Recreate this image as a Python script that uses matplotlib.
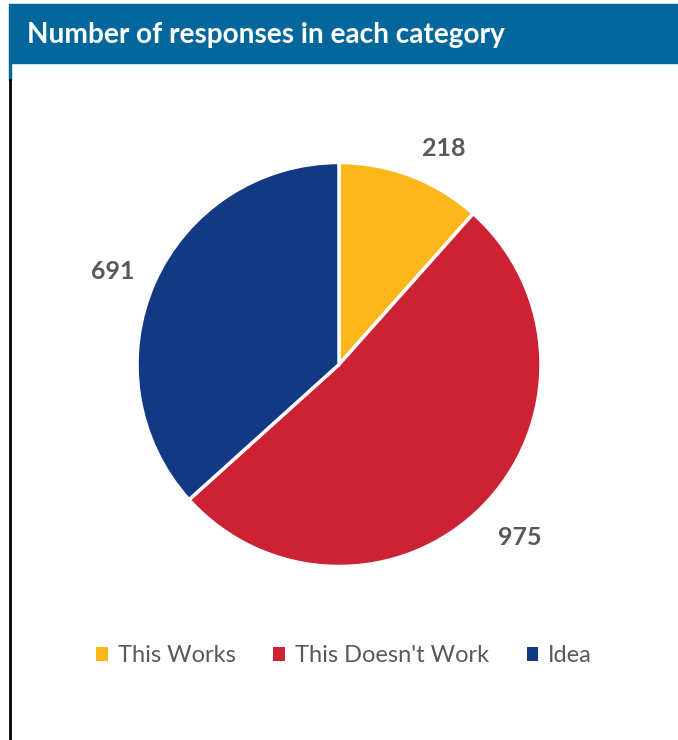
import matplotlib
matplotlib.use('Agg')
import matplotlib.pyplot as plt
from matplotlib.patches import Rectangle
from matplotlib.lines import Line2D
import numpy as np

categorias = ['This Works', "This Doesn't Work", 'Idea']
valores = [218, 975, 691]
colores = ['#FDB71C', '#CD2234', '#143984']

plt.rcParams['font.family'] = ['Lato', 'DejaVu Sans']

W, H = 678, 740
fig = plt.figure(figsize=(W / 100, H / 100), dpi=100)

# Cabecera azul
fig.patches.append(Rectangle((9 / W, 1 - 63 / H), 1 - 9 / W, 59 / H,
                             transform=fig.transFigure, color='#03679C', zorder=0))
fig.text(27 / W, 1 - 35 / H, 'Number of responses in each category', color='white',
         fontsize=20.2, fontweight='bold', va='center', ha='left')
# Borde izquierdo
fig.lines.append(Line2D([10 / W, 10 / W], [0, 1 - 80 / H], transform=fig.transFigure,
                        color='black', lw=2))
fig.patches.append(Rectangle((9 / W, 1 - 80 / H), 2 / W, 17 / H,
                             transform=fig.transFigure, color='#03679C'))

ax = fig.add_axes([137 / W, 1 - 567 / H, 404 / W, 405 / H])
wedges, _ = ax.pie(valores, colors=colores, startangle=90, counterclock=False,
                   wedgeprops=dict(edgecolor='white', linewidth=2.5))
ax.set_xlim(-1, 1)
ax.set_ylim(-1, 1)

# Etiquetas fuera de cada sector (ajuste fino de angulo y distancia)
giros = [-5, 1, 1.5]
dists = [1.19, 1.24, 1.21]
for w, v, g, d in zip(wedges, valores, giros, dists):
    ang = np.deg2rad((w.theta1 + w.theta2) / 2 + g)
    ax.text(d * np.cos(ang), d * np.sin(ang), str(v), ha='center', va='center',
            fontsize=18, fontweight='bold', color='#595959')

leg = fig.legend(wedges, categorias, loc='center', bbox_to_anchor=(344 / W, 1 - 656 / H),
                 ncol=3, frameon=False, fontsize=17, handlelength=0.5, handleheight=0.5,
                 handletextpad=0.4, columnspacing=1.6, labelcolor='#595959')
for h in leg.legend_handles:
    h.set_edgecolor('none')

plt.savefig('out.png', dpi=100)
